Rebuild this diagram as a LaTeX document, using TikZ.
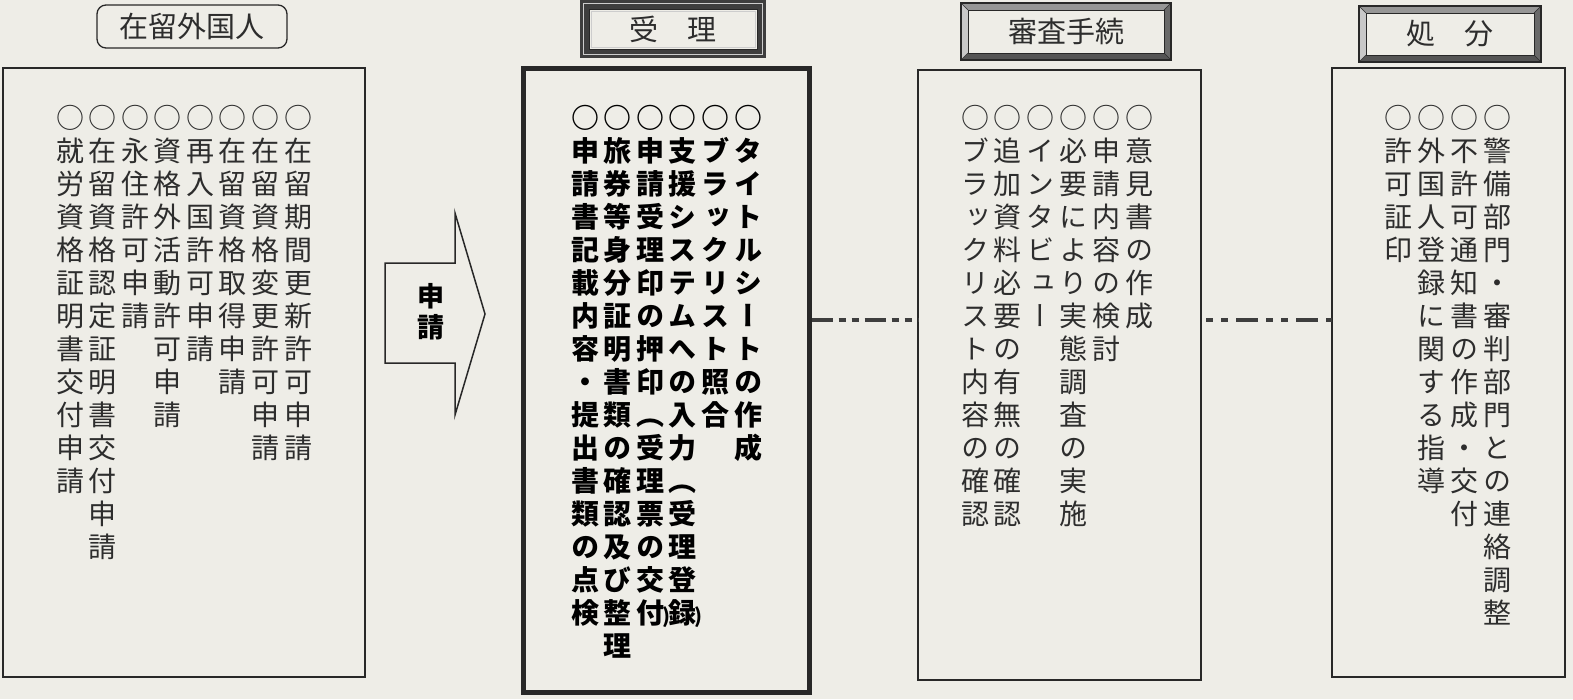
\documentclass[tikz,border=0pt]{standalone}
\usepackage{fontspec}
\newfontfamily\jpv[Script=CJK,RawFeature=+vert]{Noto Sans CJK JP}
\newfontfamily\jph[Script=CJK]{Noto Sans CJK JP}
\usetikzlibrary{calc,backgrounds}
\definecolor{paper}{RGB}{238,237,231}
\definecolor{ink}{RGB}{40,40,40}
\definecolor{txt}{RGB}{45,45,45}
\definecolor{hdark}{RGB}{62,62,62}
\definecolor{hlight}{RGB}{205,205,205}
\definecolor{bvtop}{RGB}{150,150,150}
\definecolor{bvleft}{RGB}{200,200,200}
\definecolor{bvright}{RGB}{105,105,105}
\definecolor{bvbottom}{RGB}{85,85,85}
\newdimen\cpitch \cpitch=33pt
\def\vcol#1{\vbox{\offinterlineskip\vcolaux#1\relax}}
\def\vcolaux#1{\ifx\relax#1\else\vcell{#1}\expandafter\vcolaux\fi}
\def\vcell#1{\vbox to\cpitch{\vss\hbox to\cpitch{\hss\vrule height .88em depth .12em width 0pt\relax#1\hss}\vss}}
\newcommand\clp{\rlap{\kern-2pt\fontsize{20}{20}\selectfont)}}
\newcommand\hdrbevel[1]{%
 \fill[bvtop] (#1.north west) -- (#1.north east) -- ($(#1.north east)+(-7,7)$) -- ($(#1.north west)+(7,7)$) -- cycle;
 \fill[bvbottom] (#1.south west) -- (#1.south east) -- ($(#1.south east)+(-7,-7)$) -- ($(#1.south west)+(7,-7)$) -- cycle;
 \fill[bvleft] (#1.north west) -- (#1.south west) -- ($(#1.south west)+(7,-7)$) -- ($(#1.north west)+(7,7)$) -- cycle;
 \fill[bvright] (#1.north east) -- (#1.south east) -- ($(#1.south east)+(-7,-7)$) -- ($(#1.north east)+(-7,7)$) -- cycle;
 \draw[ink,line width=1.2pt] (#1.north west) rectangle (#1.south east);
 \draw[ink,line width=0.7pt] ($(#1.north west)+(7,7)$) rectangle ($(#1.south east)+(-7,-7)$);
 \draw[ink,line width=0.5pt] (#1.north west) -- ++(7,7) (#1.north east) -- ++(-7,7) (#1.south west) -- ++(7,-7) (#1.south east) -- ++(-7,-7);
}
\begin{document}
\begin{tikzpicture}[x=1pt,y=-1pt,
  every node/.style={inner sep=0pt,outer sep=0pt},
  panel/.style={draw=ink,line width=1.6pt,anchor=north west},
  col/.style={anchor=north,text=txt,font=\jpv\fontsize{28}{33}\selectfont},
  colb/.style={anchor=north,text=black,font=\jpv\bfseries\fontsize{28}{33}\selectfont},
  hdr/.style={text=txt,font=\jph\fontsize{29}{29}\selectfont},
  conna/.style={draw=hdark,line width=4pt,dash pattern=on 21pt off 6pt on 7pt off 6pt on 7pt off 6pt,dash phase=51pt},
  connb/.style={draw=hdark,line width=4pt,dash pattern=on 22pt off 8pt on 7pt off 8pt on 7pt off 8pt,dash phase=25pt}]
\begin{scope}[on background layer]
\fill[paper] (0,0) rectangle (1573,699);
\end{scope}
\useasboundingbox (0,0) rectangle (1573,699);

% headers
\node[hdr,minimum width=190pt,minimum height=43pt,draw=ink,line width=1.3pt,rounded corners=9pt] (hforeign) at (192,26.5) {在留外国人};
\node[hdr,minimum width=186pt,minimum height=58pt] (hjuri) at (673,29) {受　理};
\node[hdr,minimum width=210pt,minimum height=57pt] (hshinsa) at (1066,31.5) {審査手続};
\node[hdr,minimum width=182pt,minimum height=56pt] (hshobun) at (1450,34) {処　分};

% panels
\node[panel,minimum width=362pt,minimum height=609pt] (applicant) at (3,68) {};
\node[panel,line width=5.5pt,minimum width=286pt,minimum height=624pt] (juri) at (523.5,68.5) {};
\node[panel,minimum width=283pt,minimum height=610pt] (shinsa) at (918,70) {};
\node[panel,minimum width=233pt,minimum height=609pt] (shobun) at (1332,68) {};

% applicant columns
\node[col] (a1) at (298,101.5) {\vcol{○在留期間更新許可申請}};
\node[col] (a2) at (265.4,101.5) {\vcol{○在留資格変更許可申請}};
\node[col] (a3) at (232.9,101.5) {\vcol{○在留資格取得申請}};
\node[col] (a4) at (200.3,101.5) {\vcol{○再入国許可申請}};
\node[col] (a5) at (167.7,101.5) {\vcol{○資格外活動許可申請}};
\node[col] (a6) at (135.1,101.5) {\vcol{○永住許可申請}};
\node[col] (a7) at (102.6,101.5) {\vcol{○在留資格認定証明書交付申請}};
\node[col] (a8) at (70,101.5) {\vcol{○就労資格証明書交付申請}};

% juri columns
\node[colb] (j1) at (748,101.5) {\vcol{○タイトルシートの作成}};
\node[colb] (j2) at (715.4,101.5) {\vcol{○ブラックリスト照合}};
\node[colb] (j3) at (682.8,101.5) {\vcol{○支援システムへの入力（受理登{録\clp}}};
\node[colb] (j4) at (650.2,101.5) {\vcol{○申請受理印の押印（受理票の交{付\clp}}};
\node[colb] (j5) at (617.6,101.5) {\vcol{○旅券等身分証明書類の確認及び整理}};
\node[colb] (j6) at (585,101.5) {\vcol{○申請書記載内容・提出書類の点検}};

% shinsa columns
\node[col] (s1) at (1139,101.5) {\vcol{○意見書の作成}};
\node[col] (s2) at (1106.2,101.5) {\vcol{○申請内容の検討}};
\node[col] (s3) at (1073.4,101.5) {\vcol{○必要により実態調査の実施}};
\node[col] (s4) at (1040.6,101.5) {\vcol{○インタビュー}};
\node[col] (s5) at (1007.8,101.5) {\vcol{○追加資料必要の有無の確認}};
\node[col] (s6) at (975,101.5) {\vcol{○ブラックリスト内容の確認}};

% shobun columns
\node[col] (b1) at (1497,101.5) {\vcol{○警備部門・審判部門との連絡調整}};
\node[col] (b2) at (1464,101.5) {\vcol{○不許可通知書の作成・交付}};
\node[col] (b3) at (1431,101.5) {\vcol{○外国人登録に関する指導}};
\node[col] (b4) at (1398,101.5) {\vcol{○許可証印}};

% application arrow
\draw[ink,line width=1.5pt,line join=miter] (385,263) -- (455,263) -- (455,213) -- (485,314) -- (455,415) -- (455,363) -- (385,363) -- cycle;
\node[colb,font=\jpv\bfseries\fontsize{27}{30}\selectfont] (shinsei) at (431,281) {\cpitch=31pt\vcol{申請}};

% connectors
\coordinate (cy) at (0,320);
\draw[conna] (juri.east |- cy) -- (shinsa.west |- cy);
\draw[connb] (shinsa.east |- cy) -- (shobun.west |- cy);

% header frames
\begin{scope}[on background layer]
\fill[hdark] (hjuri.north west) rectangle (hjuri.south east);
\draw[hlight,line width=1pt] ($(hjuri.north west)+(3.5,3.5)$) rectangle ($(hjuri.south east)+(-3.5,-3.5)$);
\fill[paper] ($(hjuri.north west)+(9,9)$) rectangle ($(hjuri.south east)+(-9,-9)$);
\draw[ink,line width=0.8pt] ($(hjuri.north west)+(9,9)$) rectangle ($(hjuri.south east)+(-9,-9)$);
\draw[hlight,line width=0.6pt] ($(hjuri.north west)+(11,11)$) rectangle ($(hjuri.south east)+(-11,-11)$);
\hdrbevel{hshinsa}
\hdrbevel{hshobun}
\end{scope}
\end{tikzpicture}
\end{document}
